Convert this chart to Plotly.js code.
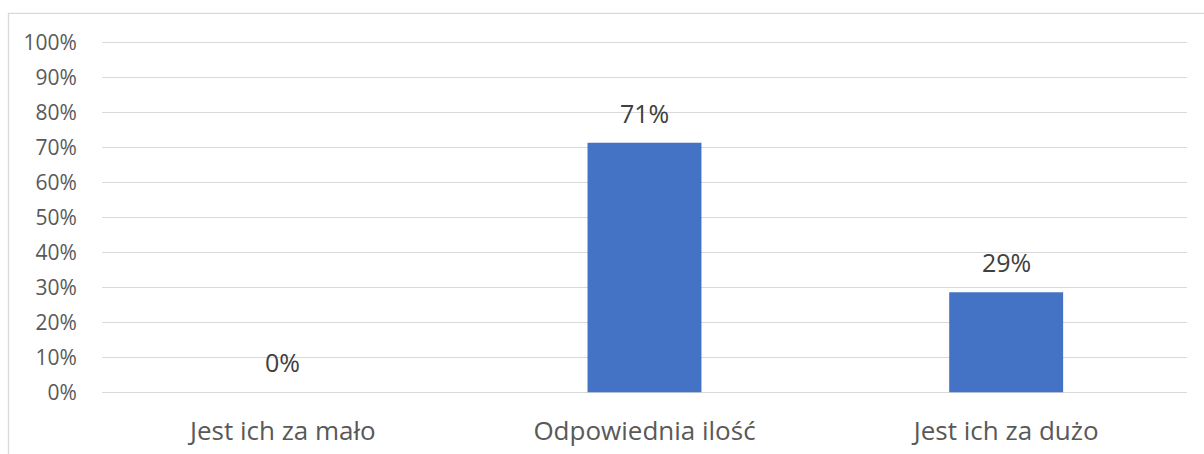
<!DOCTYPE html>
<html>
<head>
<meta charset="utf-8">
<script src="https://cdn.plot.ly/plotly-3.0.1.min.js"></script>
<style>
html,body{margin:0;padding:0;background:#fff;}
#chart{width:1204px;height:454px;}
</style>
</head>
<body>
<div id="chart"></div>
<script>
const categories = ["Jest ich za mało", "Odpowiednia ilość", "Jest ich za dużo"];
const values = [0, 0.714, 0.286];
const valueLabels = ["0%", "71%", "29%"];
const yTickVals = [0, 0.1, 0.2, 0.3, 0.4, 0.5, 0.6, 0.7, 0.8, 0.9, 1.0];
const yTickText = ["0%", "10%", "20%", "30%", "40%", "50%", "60%", "70%", "80%", "90%", "100%"];

const FONT = "'Open Sans', sans-serif";

const trace = {
  type: "bar",
  x: categories,
  y: values,
  marker: {color: "#4472C4"},
  hoverinfo: "none"
};

const annotations = categories.map((c, i) => ({
  x: c, y: values[i], xref: "x", yref: "y",
  text: valueLabels[i],
  showarrow: false,
  yanchor: "bottom",
  yshift: 11,
  font: {family: FONT, size: 25, color: "#404040"}
}));

const layout = {
  width: 1204, height: 454,
  margin: {l: 102, r: 17, t: 41, b: 59.5},
  paper_bgcolor: "#ffffff",
  plot_bgcolor: "#ffffff",
  showlegend: false,
  bargap: 0.685,
  xaxis: {
    type: "category",
    showgrid: false,
    zeroline: false,
    showline: false,
    ticks: "outside", ticklen: 14, tickcolor: "rgba(0,0,0,0)",
    tickfont: {family: FONT, size: 26, color: "#595959"},
    fixedrange: true
  },
  yaxis: {
    range: [-0.005, 1.005],
    tickvals: yTickVals,
    ticktext: yTickText,
    showgrid: true,
    gridcolor: "#D9D9D9",
    gridwidth: 1.3,
    zeroline: false,
    showline: false,
    ticks: "outside", ticklen: 20, tickcolor: "rgba(0,0,0,0)",
    tickfont: {family: FONT, size: 21, color: "#595959"},
    fixedrange: true
  },
  annotations: annotations,
  shapes: [{
    type: "path",
    xref: "paper", yref: "paper",
    path: "M -0.0862,-0.2 L -0.0862,1.078 L 1.02,1.078",
    line: {color: "#D9D9D9", width: 1.3}
  }]
};

Plotly.newPlot("chart", [trace], layout, {displayModeBar: false, staticPlot: true});
</script>
</body>
</html>
